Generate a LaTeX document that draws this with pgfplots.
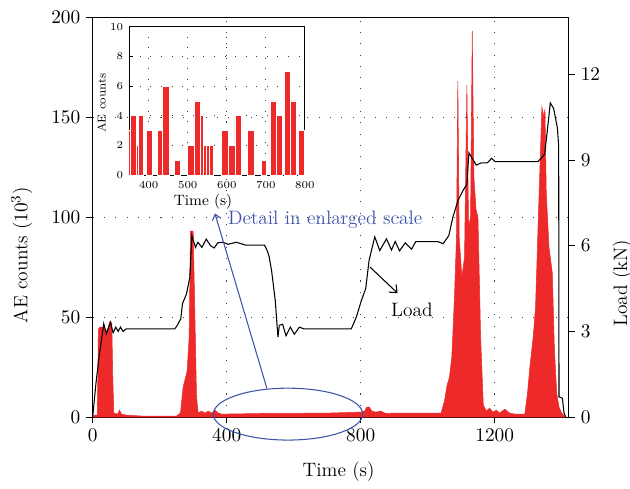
\documentclass[border=0pt]{standalone}
\usepackage{pgfplots}
\pgfplotsset{compat=1.18}
\usetikzlibrary{arrows.meta}
\definecolor{aered}{RGB}{237,41,41}
\definecolor{annblue}{RGB}{62,84,170}
\begin{document}
\begin{tikzpicture}[font=\fontsize{11}{13}\selectfont]
% main axis: AE counts
\begin{axis}[name=main, at={(0,0)}, anchor=south west, scale only axis,
  width=269.5pt, height=226.6pt,
  xmin=0, xmax=1420, ymin=0, ymax=200,
  xtick={0,400,800,1200}, ytick={0,50,100,150,200},
  /pgf/number format/1000 sep={},
  xtick pos=bottom, ytick pos=left, tick align=outside,
  major tick length=3.5pt, tick style={black, thin},
  xmajorgrids, ymajorgrids,
  major grid style={black!75, line width=0.6pt, dash pattern=on 0.6pt off 5.8pt},
  xlabel={Time (s)}, ylabel={AE counts ($10^3$)},
  xlabel style={at={(axis description cs:0.517,-0.1375)}, anchor=center},
  ylabel style={at={(axis description cs:-0.149,0.405)}, anchor=center},
  tick label style={font=\fontsize{11}{13}\selectfont}]
\addplot[fill=aered, draw=aered, line width=0.3pt] coordinates {
 (0,0) (5,1) (14,1) (17,44) (22,45) (35,45) (38,42) (45,44) (52,48) (57,47) (60,20) (63,2)
 (75,1.5) (80,3.5) (86,1.5) (100,1) (150,0.5) (250,0.5) (262,2) (270,15) (282,23) (288,40)
 (292,93) (300,93) (304,60) (310,10) (315,2) (325,3) (335,2) (345,3) (355,2) (365,3.5)
 (375,2) (385,1.5) (500,1.8) (700,2) (800,2.5) (812,3) (818,5) (826,5) (833,3) (845,2.5)
 (860,3) (875,1.8) (900,2) (1040,2) (1050,8) (1058,16) (1065,20) (1072,30) (1080,60)
 (1086,90) (1090,168) (1094,90) (1102,70) (1110,80) (1117,166) (1122,95) (1128,100)
 (1133,193) (1138,120) (1144,104) (1150,100) (1158,40) (1166,6) (1175,3) (1185,4.5)
 (1195,2.5) (1205,3.5) (1215,2) (1230,4) (1245,2) (1260,1.5) (1290,1.5) (1298,12)
 (1305,25) (1315,40) (1322,55) (1330,98) (1338,140) (1341,155) (1347,150) (1350,154)
 (1354,112) (1362,85) (1372,72) (1378,35) (1385,12) (1392,5) (1400,2) (1408,0.5) (1412,0)
} \closedcycle;
\coordinate (ell) at (axis cs:583,1.5);
\coordinate (arrA) at (axis cs:520,14.4);
\coordinate (arrB) at (axis cs:365,101.8);
\coordinate (detail) at (axis cs:694,98.5);
\coordinate (lA) at (axis cs:828,75);
\coordinate (lB) at (axis cs:910,62);
\coordinate (lt) at (axis cs:953,53.5);
\end{axis}
% right axis: load
\begin{axis}[at={(0,0)}, anchor=south west, scale only axis,
  width=269.5pt, height=226.6pt,
  xmin=0, xmax=1420, ymin=0, ymax=14,
  axis x line=none, axis y line*=right, ytick={0,3,6,9,12},
  tick align=outside, major tick length=3.5pt, tick style={black, thin},
  ylabel={Load (kN)},
  ylabel style={at={(axis description cs:1.113,0.335)}, anchor=center, rotate=0},
  tick label style={font=\fontsize{11}{13}\selectfont}]
\addplot[black, line width=0.6pt] coordinates {
 (0,0) (10,1.2) (20,2.2) (30,3.0) (33,3.27) (41,2.92) (53,3.32) (61,2.95) (69,3.15) (76,3.0)
 (83,3.15) (91,3.0) (100,3.09) (245,3.09) (252,3.2) (263,3.44) (268,3.97) (280,4.31)
 (290,4.89) (296,6.35) (307,5.94) (314,6.12) (326,5.94) (339,6.23) (352,6.0) (363,5.92)
 (373,6.1) (389,6.12) (404,6.05) (429,6.12) (457,6.02) (513,6.02) (522,5.8) (527,5.6)
 (534,5.13) (545,4.08) (553,2.8) (557,3.21) (567,3.25) (577,2.85) (590,3.15) (602,2.9)
 (617,3.15) (630,3.09) (772,3.09) (787,3.5) (802,4.08) (815,4.5) (825,5.48) (842,6.31)
 (857,5.83) (877,6.24) (892,5.85) (903,6.15) (916,5.82) (933,6.1) (952,5.88) (964,6.14)
 (1031,6.14) (1046,6.07) (1063,6.35) (1075,6.99) (1090,7.57) (1105,7.92) (1117,8.16)
 (1123,9.25) (1133,9.05) (1145,8.82) (1160,8.9) (1178,8.9) (1191,9.06) (1201,8.94)
 (1329,8.94) (1349,9.2) (1357,10.01) (1366,11.0) (1376,10.8) (1387,10.13) (1391,9.5)
 (1392,0.71) (1402,0.66) (1407,0.14) (1412,0)
};
\end{axis}
% inset: detail 350-800 s
\begin{axis}[at={(20.7pt,137.1pt)}, anchor=south west, scale only axis,
  width=99.5pt, height=84pt,
  xmin=350, xmax=800, ymin=0, ymax=10,
  xtick={400,500,600,700,800}, ytick={0,2,4,6,8,10},
  tick align=inside, major tick length=2pt, tick style={black, thin},
  xtick pos=bottom, ytick pos=left,
  xmajorgrids, ymajorgrids,
  major grid style={black!75, line width=0.5pt, dash pattern=on 0.5pt off 5.5pt},
  tick label style={font=\fontsize{6.5}{7}\selectfont},
  xlabel={Time (s)}, ylabel={AE counts},
  xlabel style={font=\fontsize{8.5}{10}\selectfont, at={(axis description cs:0.42,-0.18)}, anchor=center},
  ylabel style={font=\fontsize{6.5}{7}\selectfont, at={(axis description cs:-0.157,0.486)}, anchor=center},
  bars/.style={ybar interval, fill=aered, draw=white, line width=0.5pt}]
\addplot[bars] coordinates {(349,3) (354,4) (368,2) (373,4) (387,4)};
\addplot[bars] coordinates {(394,3) (409,3)};
\addplot[bars] coordinates {(423,3) (436,6) (452,6)};
\addplot[bars] coordinates {(466,1) (480,1)};
\addplot[bars] coordinates {(500,2) (516,5) (532,4) (539,2) (548,2) (556,2) (565,2)};
\addplot[bars] coordinates {(586,3) (603,3)};
\addplot[bars] coordinates {(605,2) (621,4) (638,4)};
\addplot[bars] coordinates {(654,3) (670,3)};
\addplot[bars] coordinates {(688,1) (702,1)};
\addplot[bars] coordinates {(712,5) (728,4) (742,4)};
\addplot[bars] coordinates {(748,7) (764,5) (778,5)};
\addplot[bars] coordinates {(783,3) (799,3)};
\end{axis}
% annotations
\draw[annblue, line width=0.6pt] (ell) ellipse [x radius=42.3pt, y radius=14.7pt];
\draw[annblue, line width=0.6pt, -{Straight Barb[length=3pt,width=5pt]}] (arrA) -- (arrB);
\node[annblue] at (detail) {Detail in enlarged scale};
\draw[black, line width=0.6pt, -{Straight Barb[length=3.5pt,width=6pt]}] (lA) -- (lB);
\node at (lt) {Load};
\pgfresetboundingbox
\path[use as bounding box] (-52.5pt,-40.2pt) rectangle (304.4pt,236.3pt);
\end{tikzpicture}
\end{document}
